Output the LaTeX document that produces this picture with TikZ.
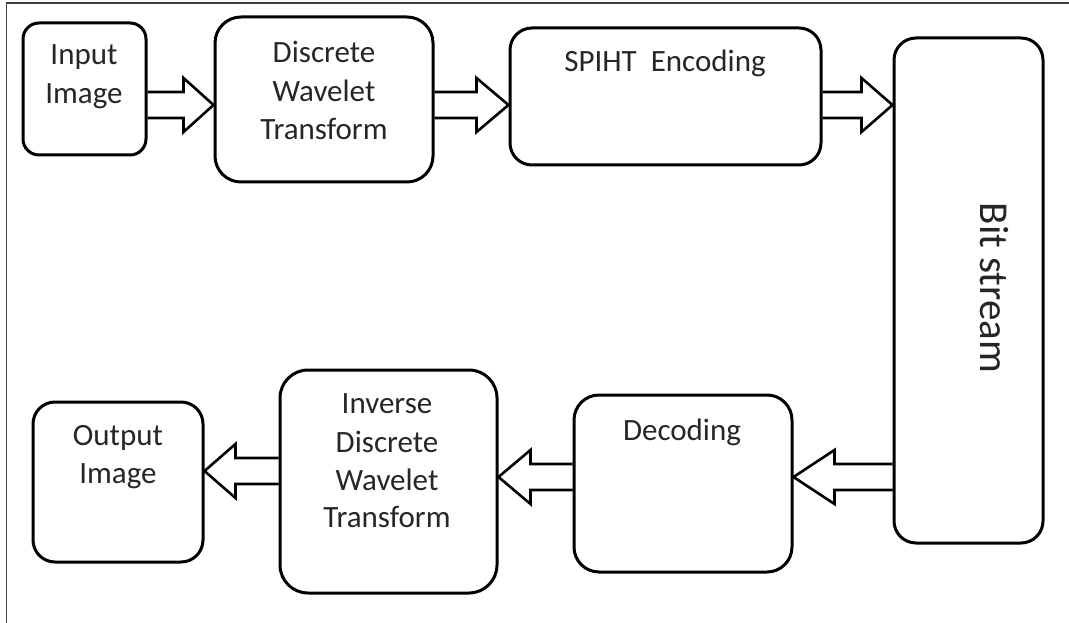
\documentclass[tikz,border=0pt]{standalone}
\usepackage{fontspec}
\setmainfont{Carlito}
\usetikzlibrary{calc}
\tikzset{
  blk/.style={draw=black, line width=3pt, rounded corners=#1, inner sep=0pt, fill=none},
  txt/.style={font=\fontsize{31}{38}\selectfont, text=black!85, inner sep=0pt, anchor=base},
  arr/.style={draw=black, line width=2.6pt, line join=miter},
  frame/.style={draw=black!75, line width=1.5pt}
}
% right-pointing hollow arrow: from node #1 to node #2, centre y #3, head length #4
\newcommand\rarr[4]{%
  \draw[arr] (#1.east |- 0,#3-13) -- ($(#2.west |- 0,#3-13)+(-#4,0)$)
    -- ($(#2.west |- 0,#3-27)+(-#4,0)$) -- (#2.west |- 0,#3)
    -- ($(#2.west |- 0,#3+27)+(-#4,0)$) -- ($(#2.west |- 0,#3+13)+(-#4,0)$)
    -- (#1.east |- 0,#3+13);}
% left-pointing hollow arrow: from node #1 (right) to node #2 (left)
\newcommand\larr[4]{%
  \draw[arr] (#1.west |- 0,#3-13) -- ($(#2.east |- 0,#3-13)+(#4,0)$)
    -- ($(#2.east |- 0,#3-27)+(#4,0)$) -- (#2.east |- 0,#3)
    -- ($(#2.east |- 0,#3+27)+(#4,0)$) -- ($(#2.east |- 0,#3+13)+(#4,0)$)
    -- (#1.west |- 0,#3+13);}
\begin{document}
\begin{tikzpicture}[x=1pt, y=-1pt]
\useasboundingbox (0,0) rectangle (1069,623);
% outer frame (cropped: only top and left edges visible)
\coordinate (fa) at (6.5,625);
\coordinate (fb) at (6.5,3);
\coordinate (fc) at (1071,3);
\draw[frame] (fa) -- (fb) -- (fc);

% boxes
\node[blk=16, minimum width=123pt, minimum height=132pt] (inp)  at (84.5,89)    {};
\node[blk=26, minimum width=218pt, minimum height=165pt] (dwt)  at (324,99.5)   {};
\node[blk=22, minimum width=311pt, minimum height=137pt] (spi)  at (665.5,96.5) {};
\node[blk=22, minimum width=149pt, minimum height=505pt] (bit)  at (968.5,290.5){};
\node[blk=25, minimum width=218pt, minimum height=177pt] (dec)  at (683,483.5)  {};
\node[blk=28, minimum width=217pt, minimum height=223pt] (idwt) at (388.5,481.5){};
\node[blk=22, minimum width=170pt, minimum height=160pt] (out)  at (118,482)    {};

% texts
\node[txt] (inpA) at (84,65)  {Input};
\node[txt] (inpB) at (84,104) {Image};
\node[txt] (dwtA) at (324,63)  {Discrete};
\node[txt] (dwtB) at (324,102) {Wavelet};
\node[txt] (dwtC) at (324,140) {Transform};
\node[txt] (spiA) at (665,72) {SPIHT\ \ Encoding};
\node[txt, font=\fontsize{41}{48}\selectfont, rotate=-90] (bitA) at (980,288) {Bit stream};
\node[txt] (decA) at (682,440) {Decoding};
\node[txt] (idwtA) at (387,413) {Inverse};
\node[txt] (idwtB) at (387,452) {Discrete};
\node[txt] (idwtC) at (387,490) {Wavelet};
\node[txt] (idwtD) at (387,527) {Transform};
\node[txt] (outA) at (118,445) {Output};
\node[txt] (outB) at (118,483) {Image};

% hollow arrows
\rarr{inp}{dwt}{105}{30}
\rarr{dwt}{spi}{105}{32}
\rarr{spi}{bit}{105}{31}
\larr{bit}{dec}{477}{41}
\larr{dec}{idwt}{477}{32}
\larr{idwt}{out}{471}{31}
\end{tikzpicture}
\end{document}
